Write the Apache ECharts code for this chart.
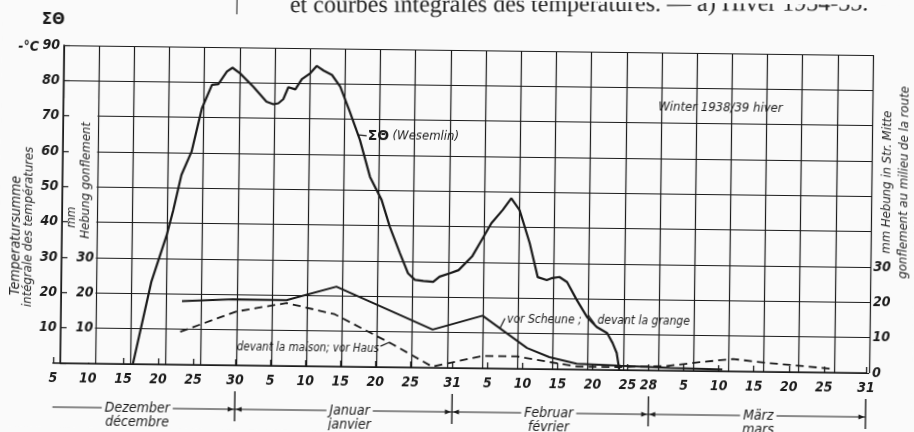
<!DOCTYPE html>
<html>
<head>
<meta charset="utf-8">
<script src="https://cdn.jsdelivr.net/npm/echarts@6.0.0/dist/echarts.min.js"></script>
<style>
  html, body { margin: 0; padding: 0; background: #fafafa; overflow: hidden; }
  /* the scanned figure is tilted a little clockwise */
  #chart { width: 914px; height: 432px; transform: rotate(0.7deg); transform-origin: 457px 216px; }
</style>
</head>
<body>
<div id="chart"></div>
<script>
// x = day counted from 1 Dec (end of day), so 31 = end of Dec, 62 = end of Jan, 90 = end of Feb
const tickDays = [5, 10, 15, 20, 25, 31, 36, 41, 46, 51, 56, 62, 67, 72, 77, 82, 87, 90, 95, 100, 105, 110, 115, 121]
const tickLabels = ['5', '10', '15', '20', '25', '30', '5', '10', '15', '20', '25', '31', '5', '10', '15', '20', '25', '28', '5', '10', '15', '20', '25', '31']

const monthBounds = [5, 31, 62, 90, 121]
const monthCenters = [17.1, 47.4, 75.8, 105.7]
const monthDe = ['Dezember', 'Januar', 'Februar', 'März']
const monthFr = ['décembre', 'janvier', 'février', 'mars']

// temperature sum (Wesemlin)
const sumDays = [16.4, 18.9, 21.0, 21.9, 23.0, 24.4, 25.8, 27.2, 28.1, 29.3, 30.1, 31.2, 33.1, 35.0, 36.0, 36.7, 37.4, 38.1, 39.1, 40.0, 41.2, 42.1, 43.1, 44.3, 45.5, 46.9, 48.4, 49.9, 51.6, 52.8, 54.3, 55.5, 56.5, 57.7, 59.1, 60.0, 61.5, 62.7, 64.6, 66.2, 67.3, 68.9, 70.1, 71.3, 72.8, 74.0, 75.3, 76.1, 77.1, 78.2, 79.6, 81.1, 82.5, 84.0, 84.8, 85.4, 85.8]
const sumVals = [0, 23.4, 36.6, 43.7, 53.7, 60.3, 72.6, 79.3, 79.5, 83.1, 84.2, 82.6, 78.9, 74.7, 74.0, 74.3, 75.5, 78.9, 78.3, 81.2, 82.9, 85.0, 83.7, 82.5, 79.2, 72.2, 64.2, 53.8, 47.3, 39.8, 32.3, 26.6, 24.8, 24.5, 24.3, 25.8, 26.8, 27.7, 31.6, 37.2, 41.1, 44.9, 48.2, 44.9, 35.6, 26.0, 25.2, 25.8, 26.1, 24.7, 19.7, 14.9, 12.1, 10.4, 7.6, 4.8, 0]

// heave in front of the barn (vor Scheune), mm
const barnDays = [23.3, 30.6, 38.2, 45.3, 59.1, 66.2, 72.6, 75.8, 79.7, 86, 93, 100.5]
const barnVals = [18.0, 18.7, 18.6, 22.6, 10.8, 14.9, 5.9, 3.4, 1.6, 1.2, 0.8, 0.5]

// heave in front of the house (vor Haus), mm
const houseDays = [23.1, 31.0, 38.2, 45.1, 53.4, 59.1, 66.2, 71.2, 75.8, 79.8, 85.8, 92.6, 97.3, 102.0, 106.9, 111.6, 116.5]
const houseVals = [9.3, 15.2, 17.8, 14.8, 6.5, 0.3, 3.5, 3.5, 2.0, 0.8, 0.85, 1.3, 2.5, 3.5, 2.5, 1.8, 1.0]

const INK = '#1b1b1b'
const FONT = "'Liberation Sans Narrow', 'DejaVu Sans Condensed', 'Liberation Sans', sans-serif"
const BG = '#fafafa'

const zip = (xs, ys) => xs.map((x, i) => [x, ys[i]])

const chart = echarts.init(document.getElementById('chart'))

const labelFont = {
  fontFamily: FONT,
  fontStyle: 'italic',
  fontWeight: 'bold',
  fontSize: 14,
  color: INK
}

const option = {
  backgroundColor: BG,
  animation: false,
  grid: [
    { left: 54.8, right: 46.1, top: 50, bottom: 64 },
    { left: 62, right: 43, top: 50, bottom: 64 }
  ],
  xAxis: [
    {
      gridIndex: 0,
      type: 'value',
      min: 5,
      max: 121,
      axisLine: { show: true, lineStyle: { color: INK, width: 1.5 } },
      axisTick: { show: true, inside: true, length: 6, customValues: tickDays, lineStyle: { color: INK, width: 1.3 } },
      axisLabel: {
        ...labelFont,
        margin: 8,
        customValues: tickDays,
        formatter: v => tickLabels[tickDays.indexOf(v)]
      },
      splitLine: { show: false }
    },
    {
      gridIndex: 1,
      type: 'value',
      min: 0,
      max: 23,
      interval: 1,
      axisLine: { show: false },
      axisTick: { show: false },
      axisLabel: { show: false },
      splitLine: { show: true, lineStyle: { color: INK, width: 1.2 } }
    }
  ],
  yAxis: [
    { gridIndex: 0, type: 'value', min: 0, max: 90, show: false },
    {
      gridIndex: 1,
      type: 'value',
      position: 'left',
      min: 0,
      max: 90,
      interval: 10,
      axisLine: { show: false },
      axisTick: { show: false },
      axisLabel: { show: false },
      splitLine: { show: true, lineStyle: { color: INK, width: 1.2 } }
    },
    {
      gridIndex: 1,
      type: 'value',
      position: 'left',
      min: 0,
      max: 90,
      interval: 10,
      z: 5,
      axisLine: { show: true, lineStyle: { color: INK, width: 1.5 } },
      axisTick: { show: true, inside: true, length: 6, lineStyle: { color: INK, width: 1.2 } },
      axisLabel: { ...labelFont, margin: 4, formatter: v => (v === 0 ? '' : String(v)) },
      splitLine: { show: false }
    },
    {
      gridIndex: 1,
      type: 'value',
      position: 'left',
      min: 0,
      max: 90,
      interval: 10,
      z: 5,
      axisLine: { show: false },
      axisTick: { show: false },
      axisLabel: { ...labelFont, inside: true, margin: 15, formatter: v => (v > 0 && v <= 30 ? String(v) : '') },
      splitLine: { show: false }
    },
    {
      gridIndex: 1,
      type: 'value',
      position: 'right',
      min: 0,
      max: 90,
      interval: 10,
      z: 5,
      axisLine: { show: false },
      axisTick: { show: false },
      axisLabel: { ...labelFont, margin: 3, formatter: v => (v <= 30 ? String(v) : '') },
      splitLine: { show: false }
    }
  ],
  series: [
    {
      name: 'ΣΘ (Wesemlin)',
      type: 'line',
      xAxisIndex: 0,
      yAxisIndex: 0,
      data: zip(sumDays, sumVals),
      symbol: 'none',
      lineStyle: { color: INK, width: 2.2 },
      z: 3
    },
    {
      name: 'vor Scheune',
      type: 'line',
      xAxisIndex: 0,
      yAxisIndex: 0,
      data: zip(barnDays, barnVals),
      symbol: 'none',
      lineStyle: { color: INK, width: 2 },
      z: 3
    },
    {
      name: 'vor Haus',
      type: 'line',
      xAxisIndex: 0,
      yAxisIndex: 0,
      data: zip(houseDays, houseVals),
      symbol: 'none',
      lineStyle: { color: INK, width: 1.8, type: [8, 5] },
      z: 3
    }
  ]
}

chart.setOption(option)

// annotations placed through the data scale
const px = (d, v) => chart.convertToPixel({ gridIndex: 0 }, [d, v])

function txt (x, y, text, font, align) {
  return {
    type: 'text',
    x: x,
    y: y,
    z: 10,
    style: { text: text, font: font, fill: INK, align: align || 'left', verticalAlign: 'middle' }
  }
}
function seg (a, b, width) {
  return {
    type: 'line',
    z: 10,
    shape: { x1: a[0], y1: a[1], x2: b[0], y2: b[1] },
    style: { stroke: INK, lineWidth: width || 1.2 }
  }
}
function arrow (x, y, dir) {
  return {
    type: 'polygon',
    z: 10,
    shape: { points: [[x, y], [x - dir * 6, y - 2.5], [x - dir * 6, y + 2.5]] },
    style: { fill: INK }
  }
}

const it12 = 'italic 12px ' + FONT
const it13 = 'italic 13px ' + FONT
const it14 = 'italic 14px ' + FONT
const els = []

// white strip behind the inner mm scale on the left
const top70 = px(5, 75)[1]
const base = px(5, 0)[1]
els.push({ type: 'rect', z: 1, shape: { x: 63.2, y: top70, width: 33.2, height: base - top70 - 1 }, style: { fill: BG } })

// axis headings
els.push(txt(51, 25, 'ΣΘ', "bold 15px 'DejaVu Sans', sans-serif", 'center'))
els.push(txt(37, 52, '-°C', 'italic bold 14px ' + FONT, 'right'))

const rot = (x, y, text, font) => ({
  type: 'text',
  x: x,
  y: y,
  z: 10,
  rotation: Math.PI / 2,
  style: { text: text, font: font, fill: INK, align: 'center', verticalAlign: 'middle' }
})
els.push(rot(16, 241, 'Temperatursumme', 'italic 14px ' + FONT))
els.push(rot(29, 232, 'intégrale des températures', it13))
els.push(rot(72, 222, 'mm', 'italic 12px ' + FONT))
els.push(rot(86, 185, 'Hebung gonflement', it13))
els.push(rot(886.5, 177, 'mm Hebung in Str. Mitte', it13))
els.push(rot(903.5, 177, 'gonflement au milieu de la route', it13))

// curve labels
let p = px(49.5, 65.4)
els.push({
  type: 'text',
  x: p[0],
  y: p[1],
  z: 10,
  style: {
    text: '{a|ΣΘ} {b|(Wesemlin)}',
    fill: INK,
    align: 'left',
    verticalAlign: 'middle',
    rich: {
      a: { font: "bold 14px 'DejaVu Sans', sans-serif", fill: INK },
      b: { font: it13, fill: INK }
    }
  }
})
els.push(seg(px(48.2, 65.6), px(49.35, 65.4)))

p = px(90.9, 74.6)
els.push(txt(p[0], p[1], 'Winter 1938/39 hiver', it13))

p = px(31.2, 5.15)
els.push(txt(p[0], p[1], 'devant la maison; vor Haus', 'italic 11.5px ' + FONT))
els.push(seg(px(51.7, 5.9), px(52.9, 7.0)))

p = px(69.7, 14.0)
els.push(txt(p[0], p[1], 'vor Scheune ;', it12))
els.push(seg(px(68.7, 11.4), px(69.4, 14.2)))

p = px(82.6, 13.8)
els.push(txt(p[0], p[1], 'devant la grange', it12))
els.push(seg(px(81.3, 15.4), px(82.2, 13.0)))

// month band under the axis
const bandY = 412
for (let i = 0; i < 4; i++) {
  const a = px(monthBounds[i], 0)[0]
  const b = px(monthBounds[i + 1], 0)[0]
  els.push(seg([a, bandY], [b, bandY], 1.2))
  els.push(arrow(b - 1, bandY, 1))
  if (i > 0) els.push(arrow(a + 1, bandY, -1))
  const c = px(monthCenters[i], 0)[0]
  els.push({
    type: 'text',
    x: c,
    y: bandY,
    z: 11,
    style: { text: monthDe[i], font: it14, fill: INK, align: 'center', verticalAlign: 'middle', backgroundColor: BG, padding: [0, 3] }
  })
  els.push(txt(c, bandY + 14, monthFr[i], it14, 'center'))
}
for (let i = 1; i < monthBounds.length; i++) {
  const x = px(monthBounds[i], 0)[0]
  els.push(seg([x, 394], [x, 424], 1.4))
}

// running caption of the page above the figure, cut by the crop
els.push({
  type: 'text',
  x: 287.5,
  y: 20,
  z: 10,
  rotation: 0.0155,
  style: { text: 'et courbes intégrales des températures. — a) Hiver 1934-35.', font: "24px 'Liberation Serif', 'DejaVu Serif', serif", fill: '#222', align: 'left', verticalAlign: 'bottom' }
})
els.push(seg([234.4, 0], [234.4, 17], 1))

chart.setOption({ graphic: els })
</script>
</body>
</html>
